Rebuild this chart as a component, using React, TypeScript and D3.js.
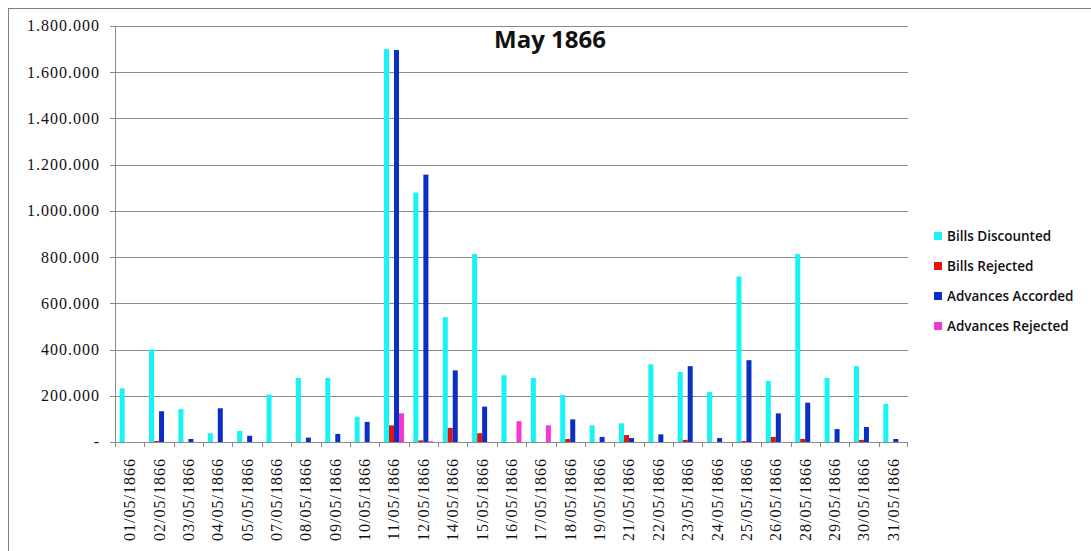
import React from "react";
import * as d3 from "d3";

const categories = [
  "01/05/1866", "02/05/1866", "03/05/1866", "04/05/1866", "05/05/1866", "07/05/1866",
  "08/05/1866", "09/05/1866", "10/05/1866", "11/05/1866", "12/05/1866", "14/05/1866",
  "15/05/1866", "16/05/1866", "17/05/1866", "18/05/1866", "19/05/1866", "21/05/1866",
  "22/05/1866", "23/05/1866", "24/05/1866", "25/05/1866", "26/05/1866", "28/05/1866",
  "29/05/1866", "30/05/1866", "31/05/1866",
];

const billsDiscounted = [
  232000, 401000, 142000, 38000, 48000, 205000, 277000, 277000, 108000, 1700000, 1079000, 540000,
  813000, 289000, 277000, 203000, 72000, 81000, 336000, 303000, 216000, 716000, 265000, 813000,
  277000, 328000, 165000,
];
const billsRejected = [
  0, 4000, 0, 0, 0, 0, 0, 0, 0, 72000, 7000, 61000,
  38000, 0, 0, 13000, 0, 30000, 0, 9000, 0, 4000, 22000, 13000,
  0, 9000, 0,
];
const advancesAccorded = [
  0, 133000, 13000, 146000, 27000, 0, 19000, 35000, 87000, 1696000, 1157000, 310000,
  153000, 0, 0, 98000, 22000, 17000, 33000, 328000, 17000, 354000, 124000, 170000,
  56000, 65000, 13000,
];
const advancesRejected = [
  0, 0, 0, 0, 0, 0, 0, 0, 0, 124000, 3000, 0,
  0, 90000, 72000, 0, 0, 0, 0, 0, 0, 0, 0, 0,
  0, 0, 0,
];

const seriesNames = ["Bills Discounted", "Bills Rejected", "Advances Accorded", "Advances Rejected"];
const seriesColors = ["#16F4F4", "#E3140F", "#0B2FC2", "#F437D2"];
const yTicks = [0, 200000, 400000, 600000, 800000, 1000000, 1200000, 1400000, 1600000, 1800000];

export default function App() {
  const W = 1091, H = 551;
  const left = 115, right = 908, top = 26, bottom = 442;
  const allSeries = [billsDiscounted, billsRejected, advancesAccorded, advancesRejected];

  const x = d3.scaleBand<string>().domain(categories).range([left, right]).padding(0);
  const y = d3.scaleLinear().domain([0, 1800000]).range([bottom, top]);
  const barW = 5;
  const groupW = barW * allSeries.length;

  const fmt = (v: number) => (v === 0 ? "-" : d3.format(",")(v).replace(/,/g, "."));
  const serif = "'Liberation Serif', 'Times New Roman', serif";

  return (
    <svg width={W} height={H} style={{ position: "absolute", left: 0, top: 0, display: "block", background: "#fff" }}>
      <rect x={8.5} y={8.5} width={W + 20} height={H + 20} fill="#fff" stroke="#808080" strokeWidth={1} />
      {yTicks.map((t) => (
        <g key={t}>
          {t > 0 && (
            <line x1={left} x2={right} y1={Math.round(y(t)) + 0.5} y2={Math.round(y(t)) + 0.5} stroke="#8a8a8a" strokeWidth={1} />
          )}
          <line x1={left - 5} x2={left} y1={Math.round(y(t)) + 0.5} y2={Math.round(y(t)) + 0.5} stroke="#8a8a8a" strokeWidth={1} />
          <text
            x={100}
            y={y(t)}
            dy="0.34em"
            textAnchor="end"
            fontFamily={serif}
            fontSize={16}
            letterSpacing={1}
            fill="#111"
          >
            {fmt(t)}
          </text>
        </g>
      ))}
      {allSeries.map((vals, si) =>
        vals.map((v, i) => {
          if (v <= 0) return null;
          const cx = (x(categories[i]) as number) + x.bandwidth() / 2;
          const bx = cx - groupW / 2 + si * barW;
          return (
            <rect
              key={`${si}-${i}`}
              x={bx}
              y={y(v)}
              width={barW}
              height={bottom - y(v)}
              fill={seriesColors[si]}
            />
          );
        })
      )}
      <line x1={left + 0.5} x2={left + 0.5} y1={top} y2={bottom} stroke="#8a8a8a" strokeWidth={1} />
      <line x1={left} x2={right} y1={bottom + 0.5} y2={bottom + 0.5} stroke="#8a8a8a" strokeWidth={1} />
      {categories.map((c) => (
        <line
          key={`tk-${c}`}
          x1={Math.round(x(c) as number) + 0.5}
          x2={Math.round(x(c) as number) + 0.5}
          y1={bottom}
          y2={bottom + 5}
          stroke="#8a8a8a"
        />
      ))}
      <line x1={right - 0.5} x2={right - 0.5} y1={bottom} y2={bottom + 5} stroke="#8a8a8a" />
      {categories.map((c) => {
        const cx = (x(c) as number) + x.bandwidth() / 2;
        return (
          <text
            key={`lb-${c}`}
            transform={`translate(${cx},${458}) rotate(-90)`}
            textAnchor="end"
            dy="0.34em"
            fontFamily={serif}
            fontSize={16}
            letterSpacing={1}
            fill="#111"
          >
            {c}
          </text>
        );
      })}
      <text x={550} y={48} textAnchor="middle" fontFamily="Open Sans" fontWeight={700} fontSize={24} fill="#111">
        May 1866
      </text>
      {seriesNames.map((n, i) => {
        const ly = 236 + i * 30;
        return (
          <g key={n}>
            <rect x={934} y={ly - 4} width={8} height={8} fill={seriesColors[i]} />
            <text x={947} y={ly} dy="0.36em" fontFamily="Open Sans" fontWeight={600} fontSize={13.5} fill="#111">
              {n}
            </text>
          </g>
        );
      })}
    </svg>
  );
}
